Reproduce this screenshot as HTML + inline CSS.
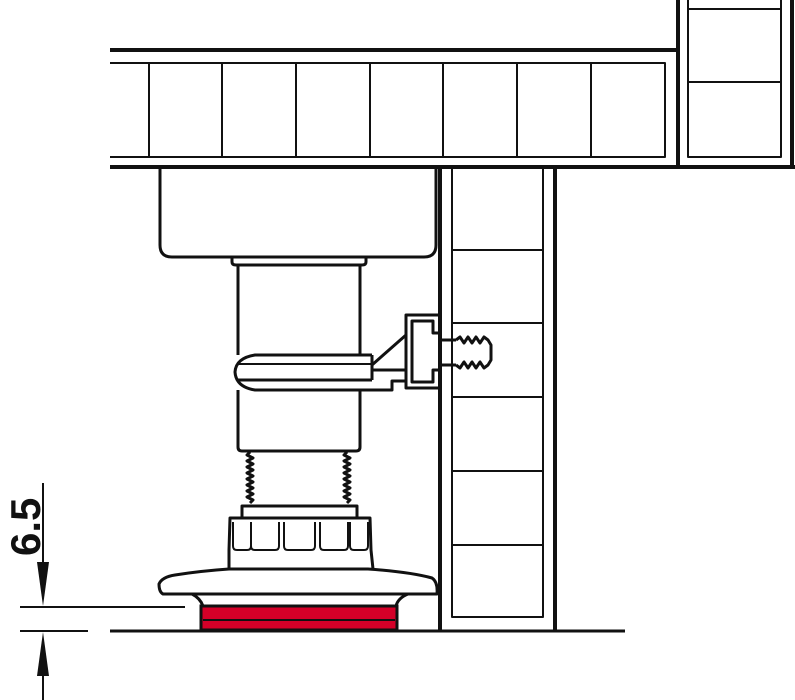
<!DOCTYPE html>
<html><head><meta charset="utf-8"><style>
html,body{margin:0;padding:0;background:#fff;}
svg{display:block;}
</style></head><body>
<svg width="795" height="700" viewBox="0 0 795 700" xmlns="http://www.w3.org/2000/svg">
<g fill="none" stroke="#111" stroke-linejoin="round">
<!-- worktop -->
<line x1="110" y1="50" x2="680" y2="50" stroke-width="4"/>
<line x1="110" y1="167" x2="795" y2="167" stroke-width="4"/>
<polyline points="110,63 665,63 665,157 110,157" stroke-width="2"/>
<g stroke-width="2">
<line x1="149" y1="63" x2="149" y2="157"/>
<line x1="222" y1="63" x2="222" y2="157"/>
<line x1="296" y1="63" x2="296" y2="157"/>
<line x1="370" y1="63" x2="370" y2="157"/>
<line x1="443" y1="63" x2="443" y2="157"/>
<line x1="517" y1="63" x2="517" y2="157"/>
<line x1="591" y1="63" x2="591" y2="157"/>
</g>
<!-- right column -->
<line x1="678" y1="0" x2="678" y2="168" stroke-width="4"/>
<line x1="792" y1="0" x2="792" y2="168" stroke-width="4"/>
<polyline points="688,0 688,157 781,157 781,0" stroke-width="2"/>
<line x1="688" y1="9" x2="781" y2="9" stroke-width="2"/>
<line x1="688" y1="82" x2="781" y2="82" stroke-width="2"/>
<!-- vertical panel -->
<line x1="440" y1="167" x2="440" y2="632" stroke-width="4"/>
<line x1="555" y1="167" x2="555" y2="632" stroke-width="4"/>
<polyline points="452,167 452,617 543,617 543,167" stroke-width="2"/>
<g stroke-width="2">
<line x1="452" y1="250" x2="543" y2="250"/>
<line x1="452" y1="323" x2="543" y2="323"/>
<line x1="452" y1="397" x2="543" y2="397"/>
<line x1="452" y1="471" x2="543" y2="471"/>
<line x1="452" y1="545" x2="543" y2="545"/>
</g>
<!-- housing -->
<path d="M160,168 L160,245 Q160,257 172,257 L424,257 Q436,257 436,245 L436,168" stroke-width="3"/>
<path d="M232,257 L232,262 Q232,265 236,265 L362,265 Q366,265 366,262 L366,257" stroke-width="3"/>
<path d="M238,265 L238,355 M360,265 L360,355 M238,390 L238,447 Q238,451 242,451 L356,451 Q360,451 360,447 L360,390" stroke-width="3"/>
<!-- clip arm -->
<path d="M372,355 L255,355 Q236,358 235,372 Q236,387 255,390 L392,390 L392,381 L406,381" stroke-width="3"/>
<line x1="372" y1="355" x2="372" y2="380" stroke-width="3"/>
<line x1="238" y1="380" x2="372" y2="380" stroke-width="3"/>
<line x1="238" y1="364" x2="372" y2="364" stroke-width="2"/>
<line x1="372" y1="370" x2="406" y2="370" stroke-width="3"/>
<line x1="372" y1="365" x2="406" y2="335" stroke-width="3"/>
<!-- bracket -->
<path d="M440,315 L406,315 L406,388 L440,388" stroke-width="3"/>
<path d="M440,333 L433,333 L433,321 L412,321 L412,382 L433,382 L433,370 L440,370" stroke-width="3"/>
<path d="M440,340 L456,340 M440,365 L456,365" stroke-width="3"/>
<path d="M456,340 l4,-3 l4,6 l4,-6 l4,6 l4,-6 l4,6 l4,-6 l4,3 L491,345 L491,360 L488,365 l-4,3 l-4,-6 l-4,6 l-4,-6 l-4,6 l-4,-6 l-4,6 l-4,-3" stroke-width="3"/>
<!-- thread rods -->
<path d="M250,452 l-3,3 l6,3 l-6,3 l6,3 l-6,3 l6,3 l-6,3 l6,3 l-6,3 l6,3 l-6,3 l6,3 l-6,3 l6,3 l-6,3 l6,3 l-3,3" stroke-width="3"/>
<path d="M347,452 l-3,3 l6,3 l-6,3 l6,3 l-6,3 l6,3 l-6,3 l6,3 l-6,3 l6,3 l-6,3 l6,3 l-6,3 l6,3 l-6,3 l6,3 l-3,3" stroke-width="3"/>
<!-- nut -->
<rect x="242" y="506" width="115" height="12" stroke-width="3"/>
<path d="M229,569 L229,550 L230,518 L370,518 L371,550 L373,569" stroke-width="3"/>
<g stroke-width="2">
<path d="M233,522 L233,546 Q233,550 237,550 L247,550 Q251,550 251,546 L251,522"/>
<path d="M251,522 L251,546 Q251,550 255,550 L275,550 Q279,550 279,546 L279,522"/>
<path d="M284,522 L284,546 Q284,550 288,550 L311,550 Q315,550 315,546 L315,522"/>
<path d="M320,522 L320,546 Q320,550 324,550 L344,550 Q348,550 348,546 L348,522"/>
<path d="M350,522 L350,546 Q350,550 354,550 L364,550 Q368,550 368,546 L368,522"/>
</g>
<!-- base disc -->
<path d="M229,569 L368,569 Q410,572 432,578 Q438,582 437,594 L163,594 Q159,592 159,584 Q162,577 175,575 Q200,571 229,569 Z" stroke-width="3"/>
<path d="M192,594 Q200,598 203,606 L396,606 Q398,598 408,594" stroke-width="3"/>
</g>
<!-- red pad -->
<rect x="201" y="606" width="196" height="24" fill="#d50028" stroke="#111" stroke-width="3"/>
<line x1="203" y1="620" x2="395" y2="620" stroke="#111" stroke-width="2"/>
<!-- floor -->
<line x1="110" y1="631" x2="625" y2="631" stroke="#111" stroke-width="3"/>
<!-- dimension -->
<g stroke="#111" stroke-width="2">
<line x1="20" y1="607" x2="185" y2="607"/>
<line x1="20" y1="631" x2="88" y2="631"/>
<line x1="43" y1="483" x2="43" y2="580"/>
<line x1="43" y1="655" x2="43" y2="700"/>
</g>
<polygon points="37,562 49,562 43,606" fill="#111"/>
<polygon points="37,676 49,676 43,632" fill="#111"/>
<text transform="translate(40,556) rotate(-90)" font-family="Liberation Sans, sans-serif" font-weight="bold" font-size="42" fill="#111">6.5</text>
</svg>
</body></html>
